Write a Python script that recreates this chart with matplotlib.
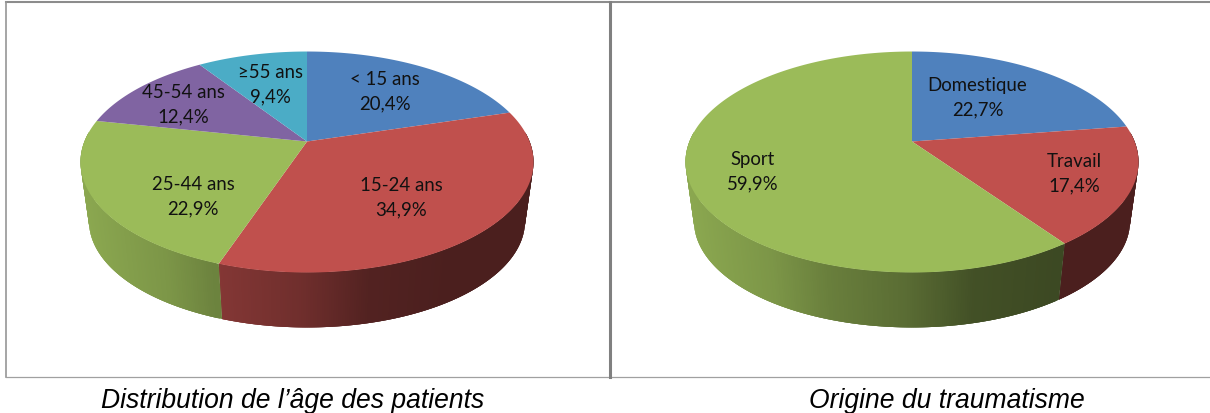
import numpy as np
import matplotlib
matplotlib.use('Agg')
import matplotlib.pyplot as plt
from matplotlib.collections import PolyCollection

plt.rcParams['font.family'] = ['Lato', 'DejaVu Sans']

# Repartition par age
age_labels = ['< 15 ans', '15-24 ans', '25-44 ans', '45-54 ans', '≥55 ans']
age_values = [20.4, 34.9, 22.9, 12.4, 9.4]
age_colors = ['#4f81bd', '#c0504d', '#9bbb59', '#8064a2', '#4bacc6']
age_text_pos = [(385, 92), (401.5, 198), (193, 197), (183, 105), (270, 85)]

# Origine du traumatisme
origin_labels = ['Domestique', 'Travail', 'Sport']
origin_values = [22.7, 17.4, 59.9]
origin_colors = ['#4f81bd', '#c0504d', '#9bbb59']
origin_text_pos = [(977.5, 98), (1074, 174), (753, 172)]

# perspective du disque
DIST = 5.39
FX = 1199.6
FY = 575.0
APEX_Y = 142.5
WALL_SCALE = 0.9625
WALL_VY = 1739.0
HALF_W = 226.5

# assombrissement du flanc selon la position horizontale
shade_x = [-1.0, -0.6, -0.35, 0.0, 0.3, 0.65, 1.0]
shade_k = [0.90, 0.80, 0.68, 0.58, 0.43, 0.39, 0.39]


def rim(cx, theta):
    # theta en degres, sens horaire depuis le haut
    t = np.radians(theta)
    u, v = np.sin(t), np.cos(t)
    return cx + FX * u / (DIST + v), APEX_Y - FY * v / (DIST + v)


def wall(cx, x, y):
    return cx + WALL_SCALE * (x - cx), WALL_VY + WALL_SCALE * (y - WALL_VY)


def draw_pie(ax, cx, values, colors, labels, text_pos):
    edges = np.concatenate([[0], np.cumsum(values)]) * 360 / sum(values)

    # flanc visible : bandes qui se recouvrent pour eviter les raccords
    for a, b, c in zip(edges[:-1], edges[1:], colors):
        lo, hi = max(a, 85), min(b, 275)
        if hi <= lo:
            continue
        th = np.linspace(lo, hi, int(hi - lo) * 2 + 2)
        polys, cols = [], []
        base = np.array(matplotlib.colors.to_rgb(c))
        for i in range(len(th) - 1):
            x0, y0 = rim(cx, th[i])
            x1, y1 = rim(cx, th[min(i + 3, len(th) - 1)])
            xb0, yb0 = wall(cx, x0, y0)
            xb1, yb1 = wall(cx, x1, y1)
            polys.append([(x0, y0), (x1, y1), (xb1, yb1), (xb0, yb0)])
            k = np.interp(x0 - cx, np.array(shade_x) * HALF_W, shade_k)
            cols.append(base * k)
        ax.add_collection(PolyCollection(polys[::-1], facecolors=cols[::-1], edgecolors='none', linewidths=0))

    # dessus du camembert
    for a, b, c in zip(edges[:-1], edges[1:], colors):
        th = np.linspace(a, b, int(b - a) * 2 + 2)
        x, y = rim(cx, th)
        ax.fill(np.r_[cx, x], np.r_[APEX_Y, y], color=c, lw=0)

    for lab, val, (tx, ty) in zip(labels, values, text_pos):
        txt = lab + '\n' + f'{val:.1f}'.replace('.', ',') + '%'
        ax.text(tx, ty, txt, ha='center', va='center', fontsize=13.4, color='#111111', linespacing=1.54)


fig = plt.figure(figsize=(12.1, 4.14), dpi=100)
ax = fig.add_axes([0, 0, 1, 1])
ax.set_xlim(0, 1210)
ax.set_ylim(414, 0)
ax.axis('off')

# cadres
ax.plot([6, 1210], [3, 3], color='#8c8c8c', lw=1.5)
ax.plot([6, 6], [3, 378], color='#969696', lw=1.2)
ax.plot([6, 1210], [378, 378], color='#a0a0a0', lw=0.9)
ax.plot([610, 610], [3, 378], color='#808080', lw=2.2)

draw_pie(ax, 307, age_values, age_colors, age_labels, age_text_pos)
draw_pie(ax, 912, origin_values, origin_colors, origin_labels, origin_text_pos)

cap = dict(family='Liberation Sans', style='italic', fontsize=19.1, ha='center', va='center', color='black')
ax.text(292.5, 401, 'Distribution de l’âge des patients', **cap)
ax.text(946.5, 401, 'Origine du traumatisme', **cap)

fig.savefig('out.png', dpi=100)
